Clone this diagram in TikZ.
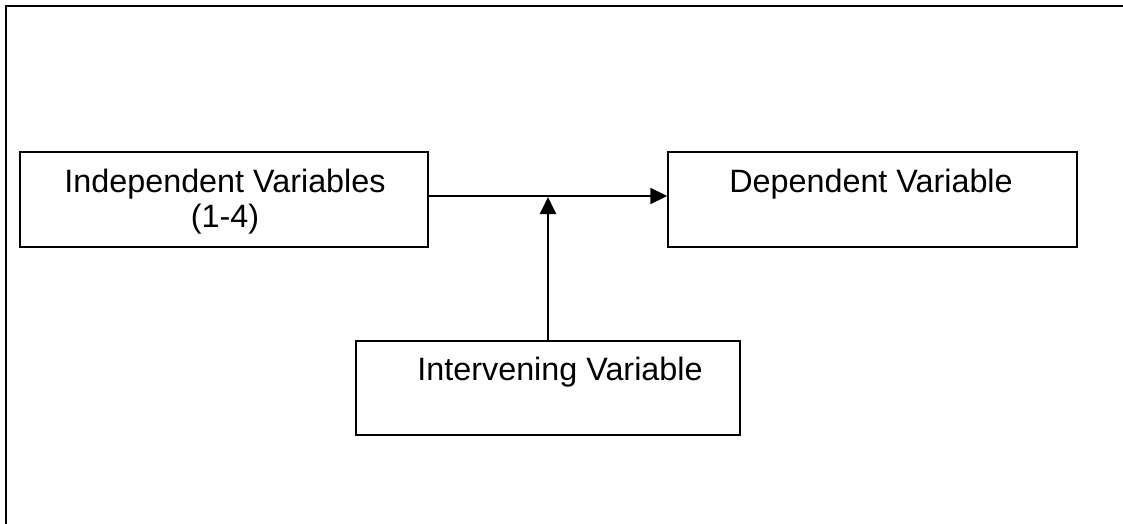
\documentclass[tikz,border=0pt]{standalone}
\usepackage{fontspec}
\setmainfont{Liberation Sans}
\usetikzlibrary{arrows.meta,positioning}

\tikzset{
	varbox/.style={draw, line width=0.9pt, minimum height=1.9cm, inner sep=0pt},
	vartext/.style={anchor=base, inner sep=0pt, font=\fontsize{18.4pt}{20pt}\selectfont},
	link/.style={line width=1.3pt, -{Triangle[length=0.34cm,width=0.32cm]}}
}

\begin{document}
\begin{tikzpicture}[x=0.02cm,y=-0.02cm]
	\useasboundingbox (0,0) rectangle (1123,524);
	
	% frame (left and top only)
	\draw[line width=1.5pt] (6,524) -- (6,6) -- (1123,6);
	
	% boxes
	\node[varbox, minimum width=8.16cm] (indep) at (224,199.5) {};
	\node[varbox, minimum width=8.18cm] (dep) at (872.5,199.5) {};
	\node[varbox, minimum width=7.68cm, minimum height=1.88cm] (interv) at (548,388) {};
	
	% texts
	\node[vartext] (indeptext) at (225,192) {Independent Variables};
	\node[vartext] (indepnum) at (225,227) {(1-4)};
	\node[vartext] (deptext) at (871,192) {Dependent Variable};
	\node[vartext] (intervtext) at (560,380) {Intervening Variable};
	
	% arrows
	\coordinate (meet) at (548,196);
	\draw[link] (indep.east |- meet) -- (dep.west |- meet);
	\draw[link] (interv.north) -- ([yshift=-0.6pt]meet);
\end{tikzpicture}
\end{document}
